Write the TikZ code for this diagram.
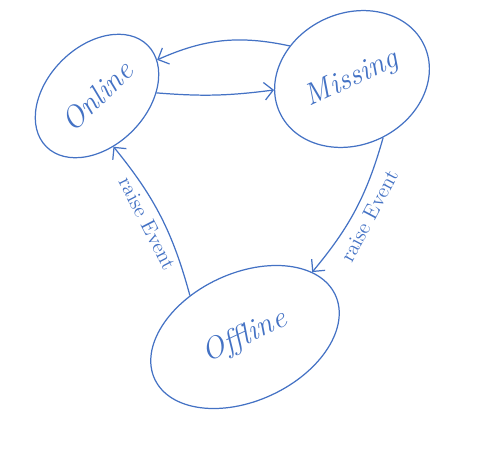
\documentclass[tikz,border=0pt]{standalone}
\usepackage{tikz}
\usetikzlibrary{shapes.geometric,arrows.meta}
\definecolor{pen}{RGB}{68,114,196}

\begin{document}
\begin{tikzpicture}[x=0.02cm, y=-0.02cm, color=pen, line width=0.7pt,
  state/.style={draw, ellipse, inner sep=0pt, font=\LARGE\itshape},
  trans/.style={-{Straight Barb[length=5pt,width=10pt]}},
  lbl/.style={font=\large, sloped, below, inner sep=4pt}]
\useasboundingbox (0,0) rectangle (487,467);
\node[state, minimum width=81.6pt, minimum height=56.7pt, rotate=45] (online) at (97,96) {Online};
\node[state, minimum width=90.7pt, minimum height=74.8pt, rotate=25] (missing) at (352,79) {Missing};
\node[state, minimum width=113.4pt, minimum height=72.6pt, rotate=25] (offline) at (245,337) {Offline};
\draw[trans] (online.-42) to[bend right=6] (missing.163);
\draw[trans] (missing.127) to[bend right=18] (online.-14);
\draw[trans] (missing.-87) to[bend left=12] node[lbl] {raise Event} (offline.19);
\draw[trans] (offline.118) to[bend right=12] node[lbl] {raise Event} (online.-117);
\end{tikzpicture}
\end{document}
